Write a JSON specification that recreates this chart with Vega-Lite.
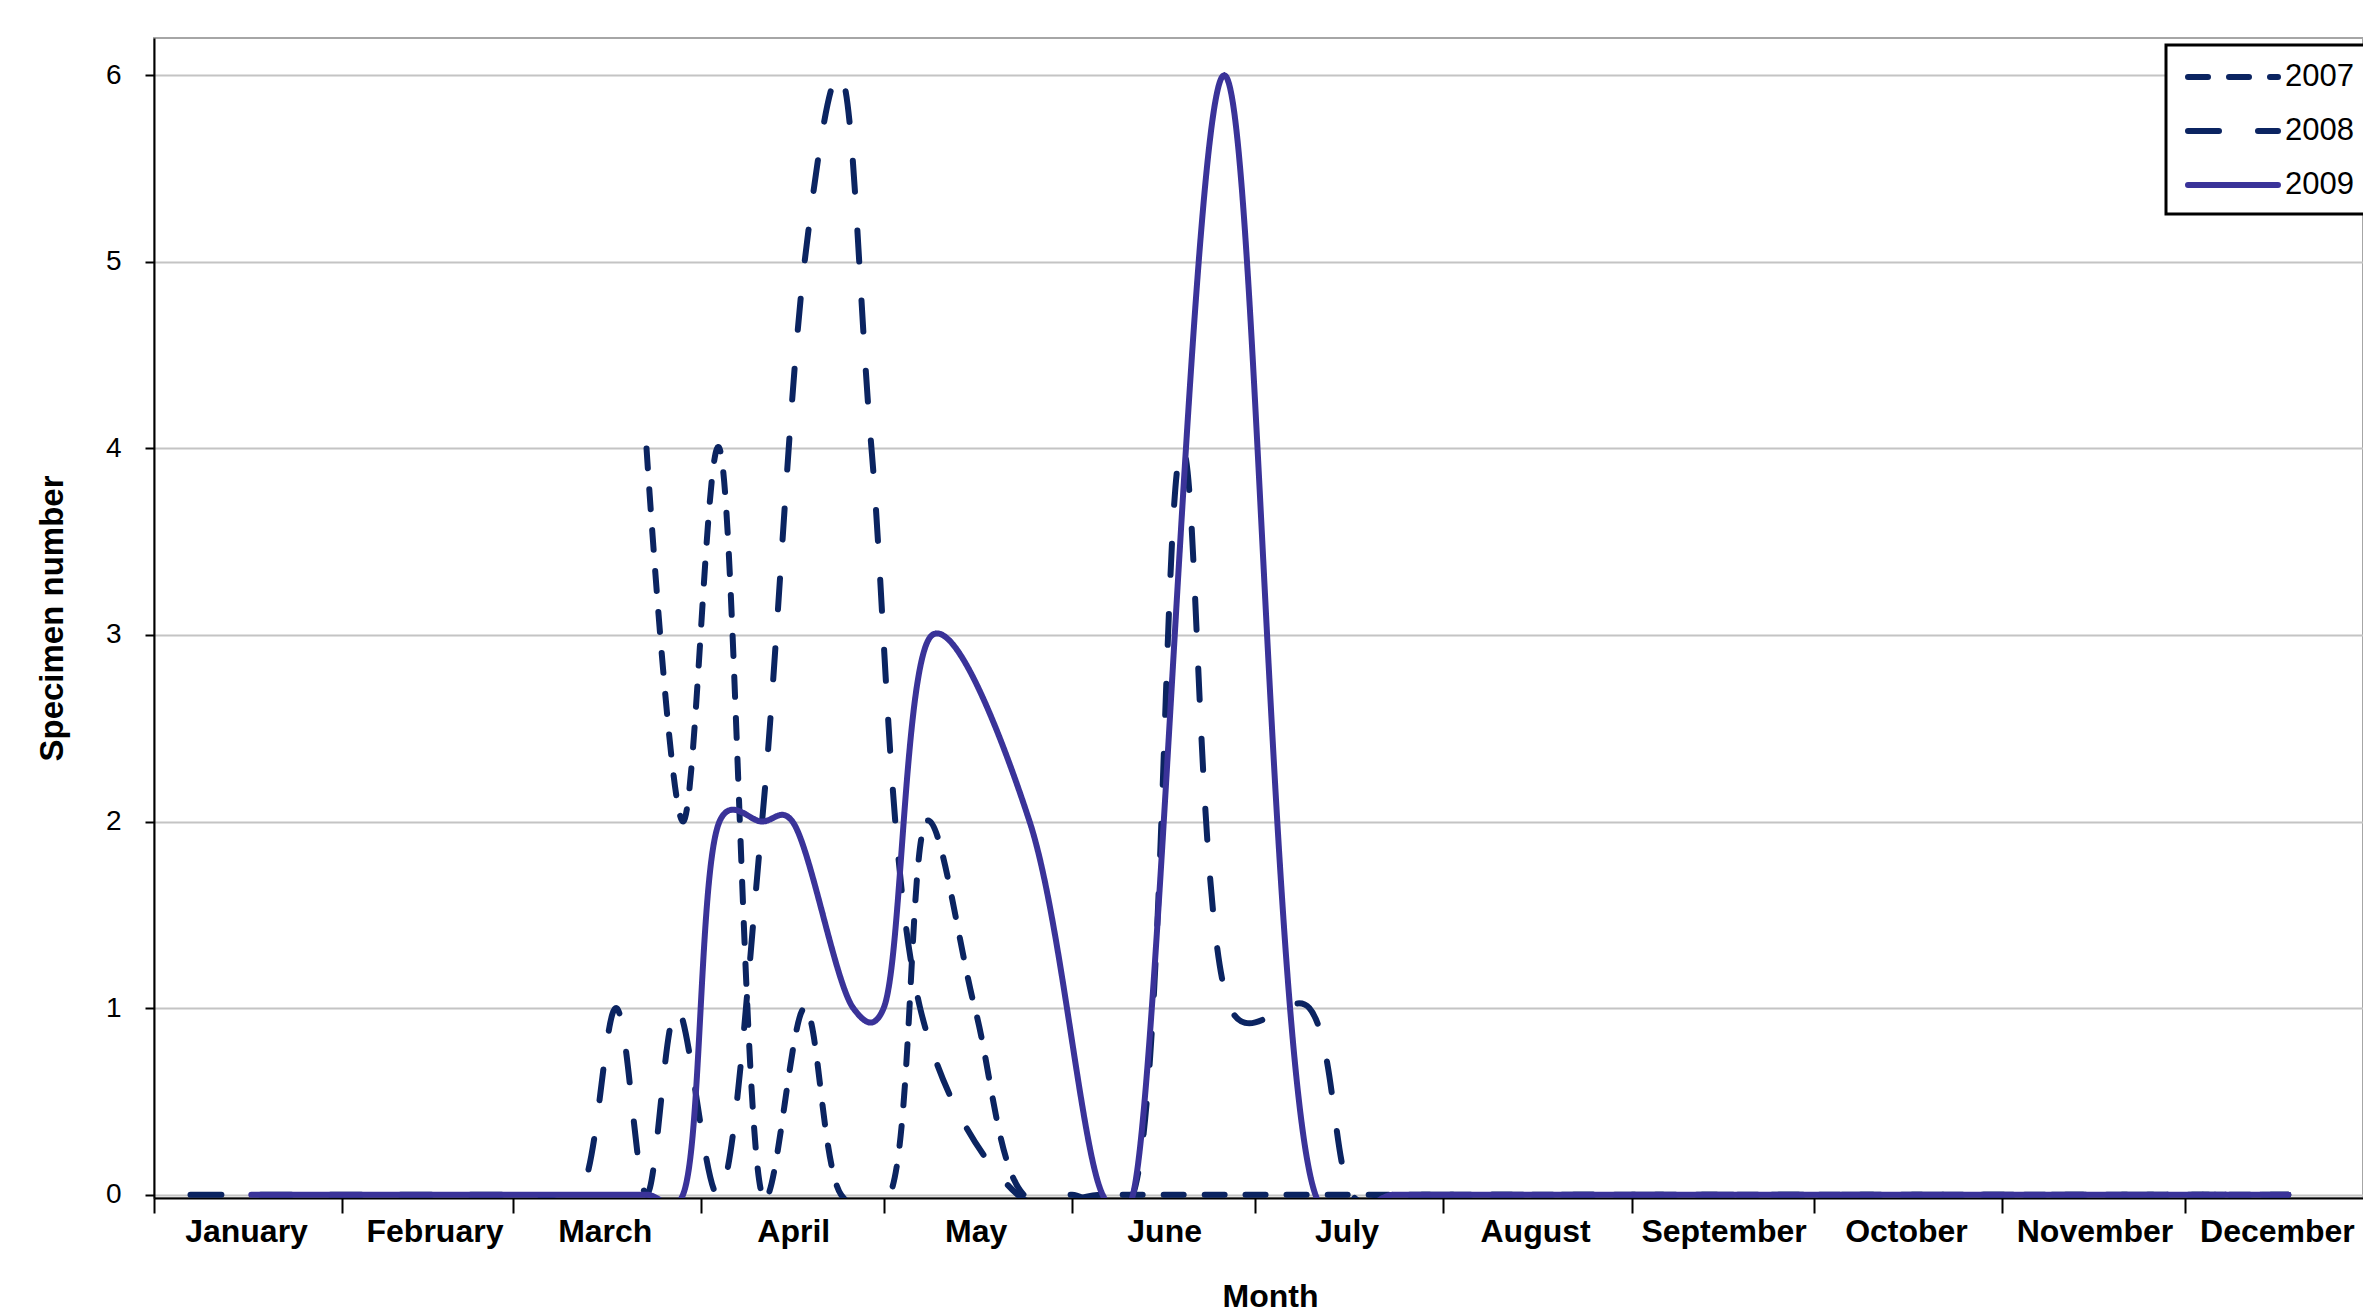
{
  "$schema": "https://vega.github.io/schema/vega-lite/v6.json",
  "width": 2209,
  "height": 1160,
  "autosize": {"type": "none"},
  "padding": {"left": 154, "top": 38, "right": 0, "bottom": 115},
  "background": "white",
  "config": {
    "view": {"stroke": "#a6a6a6", "strokeWidth": 2},
    "font": "Liberation Sans"
  },
  "data": {
    "values": [
      {"Year": "2008", "Date": "2009-01-07", "Count": 0},
      {"Year": "2008", "Date": "2009-01-21", "Count": 0},
      {"Year": "2008", "Date": "2009-02-04", "Count": 0},
      {"Year": "2008", "Date": "2009-02-18", "Count": 0},
      {"Year": "2008", "Date": "2009-03-04", "Count": 0},
      {"Year": "2008", "Date": "2009-03-12", "Count": 0},
      {"Year": "2008", "Date": "2009-03-18", "Count": 1},
      {"Year": "2008", "Date": "2009-03-23", "Count": 0},
      {"Year": "2008", "Date": "2009-03-28", "Count": 1},
      {"Year": "2008", "Date": "2009-04-04", "Count": 0},
      {"Year": "2008", "Date": "2009-04-11", "Count": 2},
      {"Year": "2008", "Date": "2009-04-18", "Count": 5},
      {"Year": "2008", "Date": "2009-04-24", "Count": 6},
      {"Year": "2008", "Date": "2009-04-29", "Count": 4},
      {"Year": "2008", "Date": "2009-05-07", "Count": 1},
      {"Year": "2008", "Date": "2009-05-23", "Count": 0},
      {"Year": "2008", "Date": "2009-06-01", "Count": 0},
      {"Year": "2008", "Date": "2009-06-11", "Count": 0},
      {"Year": "2008", "Date": "2009-06-19", "Count": 4},
      {"Year": "2008", "Date": "2009-06-27", "Count": 1},
      {"Year": "2008", "Date": "2009-07-10", "Count": 1},
      {"Year": "2008", "Date": "2009-07-17", "Count": 0},
      {"Year": "2008", "Date": "2009-07-24", "Count": 0},
      {"Year": "2008", "Date": "2009-08-07", "Count": 0},
      {"Year": "2008", "Date": "2009-08-21", "Count": 0},
      {"Year": "2008", "Date": "2009-09-04", "Count": 0},
      {"Year": "2008", "Date": "2009-09-18", "Count": 0},
      {"Year": "2008", "Date": "2009-10-02", "Count": 0},
      {"Year": "2008", "Date": "2009-10-16", "Count": 0},
      {"Year": "2008", "Date": "2009-10-30", "Count": 0},
      {"Year": "2008", "Date": "2009-11-13", "Count": 0},
      {"Year": "2008", "Date": "2009-11-27", "Count": 0},
      {"Year": "2008", "Date": "2009-12-11", "Count": 0},
      {"Year": "2008", "Date": "2009-12-18", "Count": 0},

      {"Year": "2007", "Date": "2009-03-23", "Count": 4},
      {"Year": "2007", "Date": "2009-03-29", "Count": 2},
      {"Year": "2007", "Date": "2009-04-04", "Count": 4},
      {"Year": "2007", "Date": "2009-04-11", "Count": 0},
      {"Year": "2007", "Date": "2009-04-18", "Count": 1},
      {"Year": "2007", "Date": "2009-04-24", "Count": 0},
      {"Year": "2007", "Date": "2009-05-02", "Count": 0},
      {"Year": "2007", "Date": "2009-05-08", "Count": 2},
      {"Year": "2007", "Date": "2009-05-16", "Count": 1},
      {"Year": "2007", "Date": "2009-05-24", "Count": 0},
      {"Year": "2007", "Date": "2009-06-06", "Count": 0},
      {"Year": "2007", "Date": "2009-06-19", "Count": 0},
      {"Year": "2007", "Date": "2009-07-02", "Count": 0},
      {"Year": "2007", "Date": "2009-07-16", "Count": 0},
      {"Year": "2007", "Date": "2009-07-30", "Count": 0},
      {"Year": "2007", "Date": "2009-08-13", "Count": 0},
      {"Year": "2007", "Date": "2009-08-27", "Count": 0},
      {"Year": "2007", "Date": "2009-09-10", "Count": 0},
      {"Year": "2007", "Date": "2009-09-24", "Count": 0},
      {"Year": "2007", "Date": "2009-10-08", "Count": 0},
      {"Year": "2007", "Date": "2009-10-22", "Count": 0},
      {"Year": "2007", "Date": "2009-11-05", "Count": 0},
      {"Year": "2007", "Date": "2009-11-19", "Count": 0},
      {"Year": "2007", "Date": "2009-12-03", "Count": 0},
      {"Year": "2007", "Date": "2009-12-18", "Count": 0},

      {"Year": "2009", "Date": "2009-01-17", "Count": 0},
      {"Year": "2009", "Date": "2009-01-31", "Count": 0},
      {"Year": "2009", "Date": "2009-02-14", "Count": 0},
      {"Year": "2009", "Date": "2009-02-28", "Count": 0},
      {"Year": "2009", "Date": "2009-03-14", "Count": 0},
      {"Year": "2009", "Date": "2009-03-23", "Count": 0},
      {"Year": "2009", "Date": "2009-03-29", "Count": 0},
      {"Year": "2009", "Date": "2009-04-04", "Count": 2},
      {"Year": "2009", "Date": "2009-04-11", "Count": 2},
      {"Year": "2009", "Date": "2009-04-16", "Count": 2},
      {"Year": "2009", "Date": "2009-04-26", "Count": 1},
      {"Year": "2009", "Date": "2009-05-01", "Count": 1},
      {"Year": "2009", "Date": "2009-05-09", "Count": 3},
      {"Year": "2009", "Date": "2009-05-25", "Count": 2},
      {"Year": "2009", "Date": "2009-06-06", "Count": 0},
      {"Year": "2009", "Date": "2009-06-11", "Count": 0},
      {"Year": "2009", "Date": "2009-06-26", "Count": 6},
      {"Year": "2009", "Date": "2009-07-11", "Count": 0},
      {"Year": "2009", "Date": "2009-07-24", "Count": 0},
      {"Year": "2009", "Date": "2009-08-07", "Count": 0},
      {"Year": "2009", "Date": "2009-08-21", "Count": 0},
      {"Year": "2009", "Date": "2009-09-04", "Count": 0},
      {"Year": "2009", "Date": "2009-09-18", "Count": 0},
      {"Year": "2009", "Date": "2009-10-02", "Count": 0},
      {"Year": "2009", "Date": "2009-10-16", "Count": 0},
      {"Year": "2009", "Date": "2009-10-30", "Count": 0},
      {"Year": "2009", "Date": "2009-11-13", "Count": 0},
      {"Year": "2009", "Date": "2009-11-27", "Count": 0},
      {"Year": "2009", "Date": "2009-12-11", "Count": 0},
      {"Year": "2009", "Date": "2009-12-18", "Count": 0}
    ]
  },
  "mark": {"type": "line", "interpolate": "catmull-rom", "tension": 0.25, "strokeWidth": 6, "strokeCap": "round", "clip": true},
  "encoding": {
    "x": {
      "field": "Date",
      "type": "temporal",
      "scale": {
        "type": "utc",
        "domain": [
          {"year": 2009, "month": 1, "date": 1, "utc": true},
          {"year": 2009, "month": 12, "date": 30, "hours": 7, "utc": true}
        ]
      },
      "axis": {
        "title": "Month",
        "format": "%B",
        "tickCount": {"interval": "month", "step": 1},
        "labelOffset": 92,
        "labelAlign": "center",
        "labelFlush": false,
        "labelOverlap": false,
        "labelBound": false,
        "labelFont": "Liberation Sans",
        "labelFontWeight": "bold",
        "labelFontSize": 32,
        "labelColor": "black",
        "labelPadding": 3,
        "tickSize": 15,
        "tickColor": "black",
        "tickWidth": 2,
        "domainColor": "black",
        "domainWidth": 2,
        "grid": false,
        "titleFont": "Liberation Sans",
        "titleFontSize": 32,
        "titleFontWeight": "bold",
        "titleColor": "black",
        "titlePadding": 34,
        "titleX": 1116
      }
    },
    "y": {
      "field": "Count",
      "type": "quantitative",
      "scale": {"domain": [-0.018, 6.2], "nice": false, "zero": false},
      "axis": {
        "title": "Specimen number",
        "values": [0, 1, 2, 3, 4, 5, 6],
        "labelFont": "Liberation Sans",
        "labelFontSize": 28,
        "labelColor": "black",
        "labelPadding": 24,
        "tickSize": 9,
        "tickColor": "black",
        "tickWidth": 2,
        "domainColor": "black",
        "domainWidth": 2,
        "gridColor": "#c4c4c4",
        "gridWidth": 2,
        "titleFont": "Liberation Sans",
        "titleFontSize": 33,
        "titleFontWeight": "bold",
        "titleColor": "black",
        "titlePadding": 36
      }
    },
    "color": {
      "field": "Year",
      "type": "nominal",
      "scale": {"domain": ["2007", "2008", "2009"], "range": ["#0b2461", "#0b2461", "#3a3399"]},
      "legend": {
        "title": null,
        "orient": "none",
        "legendX": 2012,
        "legendY": 7,
        "direction": "vertical",
        "symbolType": "M-3,0H3",
        "symbolSize": 900,
        "symbolStrokeWidth": 6,
        "symbolOffset": 35,
        "labelFont": "Liberation Sans",
        "labelFontSize": 31,
        "labelColor": "black",
        "labelOffset": 34,
        "strokeColor": "black",
        "fillColor": "white",
        "padding": 14,
        "rowPadding": 21,
        "encode": {
          "legend": {"update": {"strokeWidth": {"value": 3}}},
          "symbols": {"update": {"strokeCap": {"value": "round"}, "strokeDash": {"signal": "datum.value == '2007' ? [22, 19, 22, 19, 0.1, 19] : datum.value == '2008' ? [31, 39] : [1, 0]"}}}
        }
      }
    },
    "strokeDash": {
      "field": "Year",
      "type": "nominal",
      "scale": {"domain": ["2007", "2008", "2009"], "range": [[20, 21], [31, 39], [1, 0]]},
      "legend": {
        "title": null,
        "orient": "none",
        "legendX": 2012,
        "legendY": 7,
        "direction": "vertical",
        "symbolType": "M-3,0H3",
        "symbolSize": 900,
        "symbolStrokeWidth": 6,
        "symbolOffset": 35,
        "labelFont": "Liberation Sans",
        "labelFontSize": 31,
        "labelColor": "black",
        "labelOffset": 34,
        "strokeColor": "black",
        "fillColor": "white",
        "padding": 14,
        "rowPadding": 21,
        "encode": {
          "legend": {"update": {"strokeWidth": {"value": 3}}},
          "symbols": {"update": {"strokeCap": {"value": "round"}, "strokeDash": {"signal": "datum.value == '2007' ? [22, 19, 22, 19, 0.1, 19] : datum.value == '2008' ? [31, 39] : [1, 0]"}}}
        }
      }
    }
  }
}
